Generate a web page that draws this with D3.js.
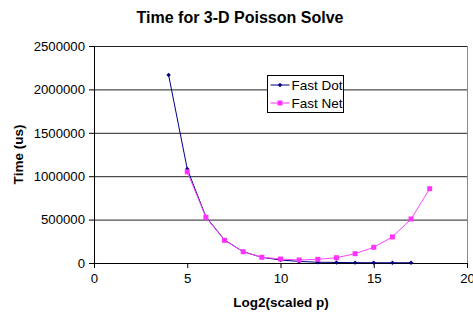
<!DOCTYPE html>
<html>
<head>
<meta charset="utf-8">
<script src="https://cdn.jsdelivr.net/npm/d3@7"></script>
<style>
  body { margin: 0; background: #fff; }
  text { font-family: "Liberation Sans", Arial, sans-serif; }
</style>
</head>
<body>
<div id="chart"></div>
<script>
// Data
const dotX = [4, 5, 6, 7, 8, 9, 10, 11, 12, 13, 14, 15, 16, 17];
const dotTime = [2166000, 1083000, 533000, 265000, 130000, 65000, 35000, 18000, 9000, 6000, 4000, 3000, 3000, 3000];
const netX = [5, 6, 7, 8, 9, 10, 11, 12, 13, 14, 15, 16, 17, 18];
const netTime = [1050000, 526000, 261000, 130000, 66000, 46000, 35000, 42000, 61000, 107000, 181000, 300000, 507000, 856000];
const xTicks = [0, 5, 10, 15, 20];
const yTicks = [0, 500000, 1000000, 1500000, 2000000, 2500000];

const W = 473, H = 318;
const margin = { top: 46, right: 6, bottom: 55, left: 94 };
const width = W - margin.left - margin.right;
const height = H - margin.top - margin.bottom;

const svg = d3.select("#chart").append("svg")
    .attr("width", W)
    .attr("height", H);

const g = svg.append("g")
    .attr("transform", "translate(" + margin.left + "," + margin.top + ")");

const x = d3.scaleLinear().domain([0, 20]).range([0, width]);
const y = d3.scaleLinear().domain([0, 2500000]).range([height, 0]);

// gridlines
g.selectAll(".grid")
    .data(yTicks.filter(d => d > 0))
    .enter().append("line")
    .attr("x1", 0).attr("x2", width)
    .attr("y1", d => y(d) + 0.5).attr("y2", d => y(d) + 0.5)
    .attr("stroke", "#222").attr("stroke-width", 1);

// right border of plot area
g.append("line")
    .attr("x1", width + 0.5).attr("x2", width + 0.5)
    .attr("y1", 0).attr("y2", height)
    .attr("stroke", "#888");

// axes
const xAxis = g.append("g")
    .attr("transform", "translate(0," + height + ")")
    .call(d3.axisBottom(x).tickValues(xTicks).tickSize(5).tickPadding(6));
const yAxis = g.append("g")
    .call(d3.axisLeft(y).tickValues(yTicks).tickSize(5).tickPadding(4).tickFormat(d3.format("d")));

[xAxis, yAxis].forEach(a => {
    a.select(".domain").attr("stroke", "#000");
    a.selectAll(".tick line").attr("stroke", "#000");
    a.selectAll("text").style("font-family", "Liberation Sans, Arial, sans-serif")
        .style("font-size", "13.2px").attr("fill", "#000");
});

// lines
const line = d3.line().x(d => x(d[0])).y(d => y(d[1]));
const dotData = dotX.map((v, i) => [v, dotTime[i]]);
const netData = netX.map((v, i) => [v, netTime[i]]);

g.append("path")
    .datum(dotData)
    .attr("d", line)
    .attr("fill", "none")
    .attr("stroke", "#000080")
    .attr("stroke-width", 1);

g.append("path")
    .datum(netData)
    .attr("d", line)
    .attr("fill", "none")
    .attr("stroke", "#ff44ff")
    .attr("stroke-width", 1);

// markers
g.selectAll(".dot")
    .data(dotData)
    .enter().append("path")
    .attr("transform", d => "translate(" + x(d[0]) + "," + y(d[1]) + ")")
    .attr("d", "M0,-2.2L2.2,0L0,2.2L-2.2,0Z")
    .attr("fill", "#000080");

g.selectAll(".net")
    .data(netData)
    .enter().append("rect")
    .attr("x", d => x(d[0]) - 2.5)
    .attr("y", d => y(d[1]) - 2.5)
    .attr("width", 5).attr("height", 5)
    .attr("fill", "#ff33ff");

// legend
const legend = svg.append("g").attr("transform", "translate(267.5,75.5)");
legend.append("rect")
    .attr("width", 76).attr("height", 37)
    .attr("fill", "#fff").attr("stroke", "#000");

const series = [
    { name: "Fast Dot", color: "#000080", marker: "diamond" },
    { name: "Fast Net", color: "#ff33ff", marker: "square" }
];
series.forEach((s, i) => {
    const cy = 9.5 + i * 18;
    legend.append("line")
        .attr("x1", 3).attr("x2", 22)
        .attr("y1", cy).attr("y2", cy)
        .attr("stroke", s.color);
    if (s.marker === "diamond") {
        legend.append("path")
            .attr("transform", "translate(12.5," + cy + ")")
            .attr("d", "M0,-2.2L2.2,0L0,2.2L-2.2,0Z")
            .attr("fill", s.color);
    } else {
        legend.append("rect")
            .attr("x", 10).attr("y", cy - 2.5)
            .attr("width", 5).attr("height", 5)
            .attr("fill", s.color);
    }
    legend.append("text")
        .attr("x", 24).attr("y", cy + 4.5)
        .style("font-size", "13.5px")
        .text(s.name);
});

// title and axis labels
svg.append("text")
    .attr("x", 240).attr("y", 23)
    .attr("text-anchor", "middle")
    .style("font-size", "16px").style("font-weight", "bold")
    .text("Time for 3-D Poisson Solve");

svg.append("text")
    .attr("x", 281).attr("y", 307)
    .attr("text-anchor", "middle")
    .style("font-size", "13.5px").style("font-weight", "bold")
    .text("Log2(scaled p)");

svg.append("text")
    .attr("transform", "translate(23," + (margin.top + height / 2) + ") rotate(-90)")
    .attr("text-anchor", "middle")
    .style("font-size", "13.5px").style("font-weight", "bold")
    .text("Time (us)");
</script>
</body>
</html>
